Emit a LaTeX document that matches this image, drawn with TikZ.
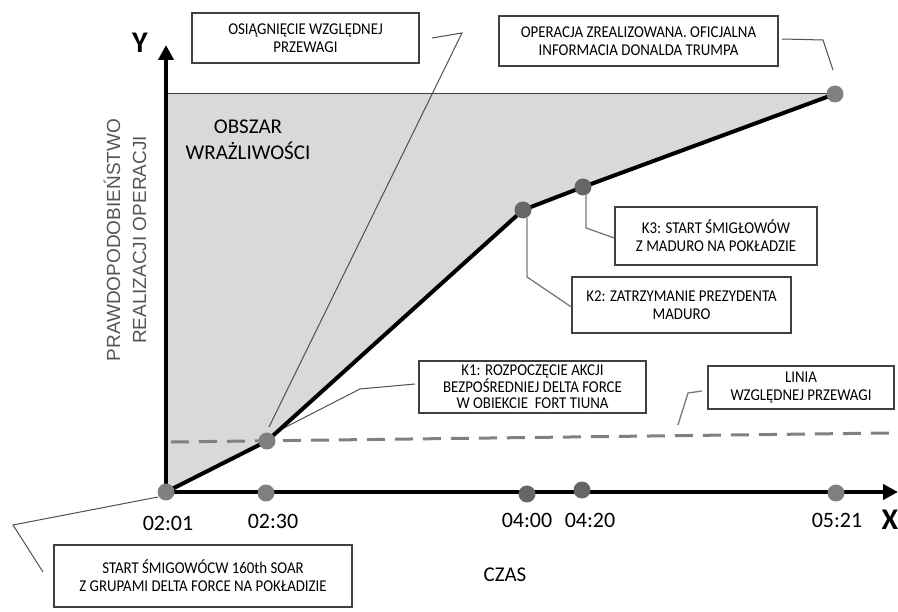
\documentclass[tikz,border=0pt]{standalone}
\usepackage{fontspec}
\setmainfont{Carlito}
\newfontfamily\boxf[FakeStretch=0.9]{Carlito}
\newfontfamily\arialf{Liberation Sans}
\usetikzlibrary{arrows.meta}
\definecolor{areagray}{HTML}{D9D9D9}
\definecolor{dotgray}{HTML}{808080}
\definecolor{dotdark}{HTML}{666666}
\definecolor{boxline}{HTML}{404040}
\definecolor{connA}{HTML}{505050}
\definecolor{connB}{HTML}{7A7A7A}
\definecolor{labgray}{HTML}{555555}
\tikzset{
  infobox/.style={draw=boxline, line width=1.3pt, fill=white, align=center, inner sep=0pt,
    font=\boxf\fontsize{16.5}{18}\selectfont, text=black},
  conn/.style={draw=connB, line width=1.3pt},
  connthin/.style={draw=connA, line width=1pt},
  evdot/.style={circle, fill=dotgray, minimum size=17pt, inner sep=0pt},
  evdotdark/.style={circle, fill=dotdark, minimum size=17pt, inner sep=0pt},
  ticklab/.style={font=\fontsize{22}{24}\selectfont, text=black},
  axislab/.style={font=\bfseries\fontsize{30}{32}\selectfont, text=black},
  mainline/.style={line width=4pt, black, line join=round},
  axisline/.style={line width=4pt, black, -{Triangle[length=15pt,width=15pt]}}
}
\begin{document}
\begin{tikzpicture}[x=1pt,y=-1pt]
\useasboundingbox (0,0) rectangle (898,612);
% curve points
\coordinate (p0) at (166,492);
\coordinate (p1) at (267,441);
\coordinate (p2) at (523,210);
\coordinate (p3) at (583,187);
\coordinate (p4) at (835,94);
\coordinate (tl) at (166,94);
% shaded area
\fill[areagray] (tl) -- (p0) -- (p1) -- (p2) -- (p3) -- (p4) -- cycle;
\draw[line width=1pt, boxline] (tl) -- (p4);
% dashed line
\coordinate (d0) at (171,442);
\coordinate (d1) at (890,433);
\draw[dotgray, line width=3pt, dash pattern=on 18pt off 10pt] (d0) -- (d1);
% boxes
\node[infobox, minimum width=227pt, minimum height=50pt] (osi) at (305.5,38) {OSIĄGNIĘCIE WZGLĘDNEJ\\PRZEWAGI};
\node[infobox, minimum width=279pt, minimum height=50pt] (trump) at (638.5,41) {OPERACJA ZREALIZOWANA. OFICJALNA\\INFORMACIA DONALDA TRUMPA};
\node[infobox, minimum width=202pt, minimum height=58pt] (k3) at (716,236) {K3: START ŚMIGŁOWÓW\\Z MADURO NA POKŁADZIE};
\node[infobox, minimum width=219pt, minimum height=56pt] (k2) at (681.5,305) {K2: ZATRZYMANIE PREZYDENTA\\MADURO};
\node[infobox, minimum width=227pt, minimum height=52pt, font=\boxf\fontsize{16.5}{16.5}\selectfont] (k1) at (532.5,387) {K1: ROZPOCZĘCIE AKCJI\\BEZPOŚREDNIEJ DELTA FORCE\\W OBIEKCIE\ \ FORT TIUNA};
\node[infobox, minimum width=186pt, minimum height=43pt] (linia) at (801,387.5) {LINIA\\WZGLĘDNEJ PRZEWAGI};
\node[infobox, minimum width=298pt, minimum height=62pt] (start) at (203,576) {START ŚMIGOWÓCW 160th SOAR\\Z GRUPAMI DELTA FORCE NA POKŁADIZIE};
% connectors
\coordinate (c1a) at (269,427);
\coordinate (c1b) at (462,33);
\coordinate (c1c) at (432,38);
\draw[connthin] (c1a) -- (c1b) -- (c1c);
\coordinate (c2a) at (782,39);
\coordinate (c2b) at (823,40);
\coordinate (c2c) at (833,70);
\draw[connthin] (c2a) -- (c2b) -- (c2c);
\coordinate (c3a) at (586,195);
\coordinate (c3b) at (586,228);
\draw[conn] (c3a) -- (c3b) -- (k3.west |- 0,238);
\coordinate (c4a) at (527,218);
\coordinate (c4b) at (527,277);
\draw[conn] (c4a) -- (c4b) -- (k2.west |- 0,307);
\coordinate (c5a) at (280,430);
\coordinate (c5b) at (360,389);
\coordinate (c5c) at (415,384);
\draw[connthin] (c5a) -- (c5b) -- (c5c);
\coordinate (c6a) at (678,425);
\coordinate (c6b) at (688,393);
\coordinate (c6c) at (702,391);
\draw[conn] (c6a) -- (c6b) -- (c6c);
\coordinate (c7a) at (158,497);
\coordinate (c7b) at (13,525);
\coordinate (c7c) at (43,572);
\draw[connthin] (c7a) -- (c7b) -- (c7c);
% main curve
\draw[mainline] (p0) -- (p1) -- (p2) -- (p3) -- (p4);
% axes
\coordinate (ytip) at (166,45);
\coordinate (xtip) at (898,492);
\draw[axisline] (p0) -- (ytip);
\draw[axisline] (p0) -- (xtip);
% dots on curve
\node[evdot] (e0) at (p0) {};
\node[evdot] (e1) at (p1) {};
\node[evdotdark] (e2) at (p2) {};
\node[evdotdark] (e3) at (p3) {};
\node[evdot] (e4) at (p4) {};
% dots on axis
\node[evdot] (a1) at (266,493) {};
\node[evdotdark] (a2) at (527,494) {};
\node[evdotdark] (a3) at (582,490) {};
\node[evdot] (a4) at (836,493) {};
% tick labels
\node[ticklab] (t0) at (168,523) {02:01};
\node[ticklab] (t1) at (273,521) {02:30};
\node[ticklab] (t2) at (527,520) {04:00};
\node[ticklab] (t3) at (590,520) {04:20};
\node[ticklab] (t4) at (837,520) {05:21};
% axis labels
\node[axislab] (xl) at (890,520) {X};
\node[axislab] (yl) at (140,43) {Y};
\node[font=\fontsize{21}{23}\selectfont] (czas) at (505,575) {CZAS};
\node[font=\fontsize{21}{26}\selectfont, align=center] (obs) at (248,140) {OBSZAR\\WRAŻLIWOŚCI};
\node[font=\arialf\fontsize{19}{26}\selectfont, text=labgray, align=center, rotate=90] (ylab) at (125,240) {PRAWDOPODOBIEŃSTWO\\REALIZACJI OPERACJI};
\end{tikzpicture}
\end{document}
